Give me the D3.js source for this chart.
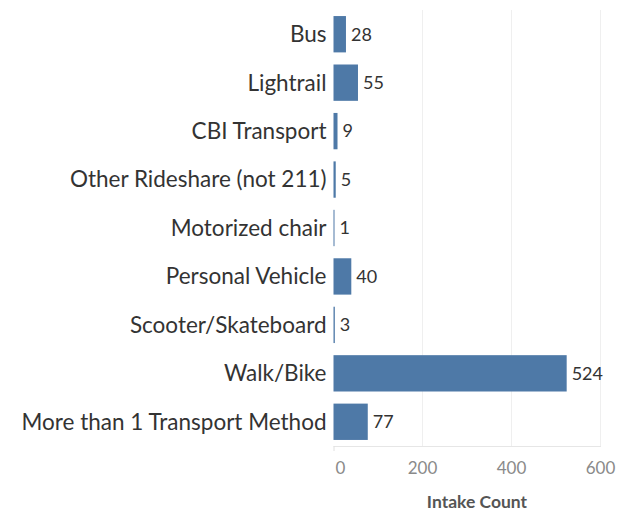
<!DOCTYPE html>
<html>
<head>
<meta charset="utf-8">
<script src="https://cdn.jsdelivr.net/npm/d3@7"></script>
<style>
    body { margin: 0; background: #fff; }
    text { font-family: Lato, "Open Sans", sans-serif; }
</style>
</head>
<body>
<div id="chart"></div>
<script>
"use strict";

var categories = [
    "Bus",
    "Lightrail",
    "CBI Transport",
    "Other Rideshare (not 211)",
    "Motorized chair",
    "Personal Vehicle",
    "Scooter/Skateboard",
    "Walk/Bike",
    "More than 1 Transport Method"
];
var counts = [28, 55, 9, 5, 1, 40, 3, 524, 77];
var xTicks = [0, 200, 400, 600];
var xTitle = "Intake Count";

(function () {
    var width = 618,
        height = 512,
        margin = { top: 10, right: 17, bottom: 66, left: 333.5 },
        plotW = width - margin.left - margin.right,
        plotH = height - margin.top - margin.bottom,
        svg, g, x, y, rows;

    svg = d3.select("#chart").append("svg")
        .attr("width", width)
        .attr("height", height);

    g = svg.append("g")
        .attr("transform", "translate(" + margin.left + "," + margin.top + ")");

    x = d3.scaleLinear().domain([0, 600]).range([0, 267]);
    y = d3.scaleBand().domain(categories).range([0, plotH])
        .paddingInner(0.25).paddingOuter(0.125);

    // grid lines
    g.append("g").selectAll("line")
        .data(xTicks.slice(1)).enter().append("line")
        .attr("x1", function (d) { return x(d); })
        .attr("x2", function (d) { return x(d); })
        .attr("y1", 0)
        .attr("y2", plotH)
        .attr("stroke", "#efefef")
        .attr("stroke-width", 1);

    // axis line
    g.append("line")
        .attr("x1", 0).attr("x2", plotW)
        .attr("y1", plotH + 0.5).attr("y2", plotH + 0.5)
        .attr("stroke", "#e6e6e6");

    g.append("line")
        .attr("x1", 0.5).attr("x2", 0.5)
        .attr("y1", plotH).attr("y2", plotH + 5)
        .attr("stroke", "#e0e0e0");

    g.append("g").selectAll("text")
        .data(xTicks).enter().append("text")
        .attr("x", function (d) { return x(d) + (d === 0 ? 7 : 0); })
        .attr("y", plotH + 28)
        .attr("text-anchor", "middle")
        .style("font-size", "17px")
        .style("fill", "#8a8a8a")
        .text(function (d) { return d; });

    svg.append("text")
        .attr("x", 477)
        .attr("y", 508)
        .attr("text-anchor", "middle")
        .style("font-size", "17.5px")
        .style("font-weight", "bold")
        .style("fill", "#555")
        .text(xTitle);

    rows = g.selectAll(".row")
        .data(categories).enter().append("g")
        .attr("class", "row");

    rows.append("rect")
        .attr("x", 0)
        .attr("y", function (d) { return y(d); })
        .attr("width", function (d, i) { return Math.max(1, x(counts[i])); })
        .attr("height", y.bandwidth())
        .attr("fill", "#4e79a7");

    rows.append("text")
        .attr("x", function (d, i) { return Math.max(1, x(counts[i])) + 5; })
        .attr("y", function (d) { return y(d) + y.bandwidth() / 2; })
        .attr("dy", "0.35em")
        .style("font-size", "18px")
        .style("fill", "#333")
        .text(function (d, i) { return counts[i]; });

    rows.append("text")
        .attr("x", -7)
        .attr("y", function (d) { return y(d) + y.bandwidth() / 2; })
        .attr("dy", "0.35em")
        .attr("text-anchor", "end")
        .style("font-size", "22.5px")
        .style("fill", "#333")
        .text(function (d) { return d; });
}());
</script>
</body>
</html>
